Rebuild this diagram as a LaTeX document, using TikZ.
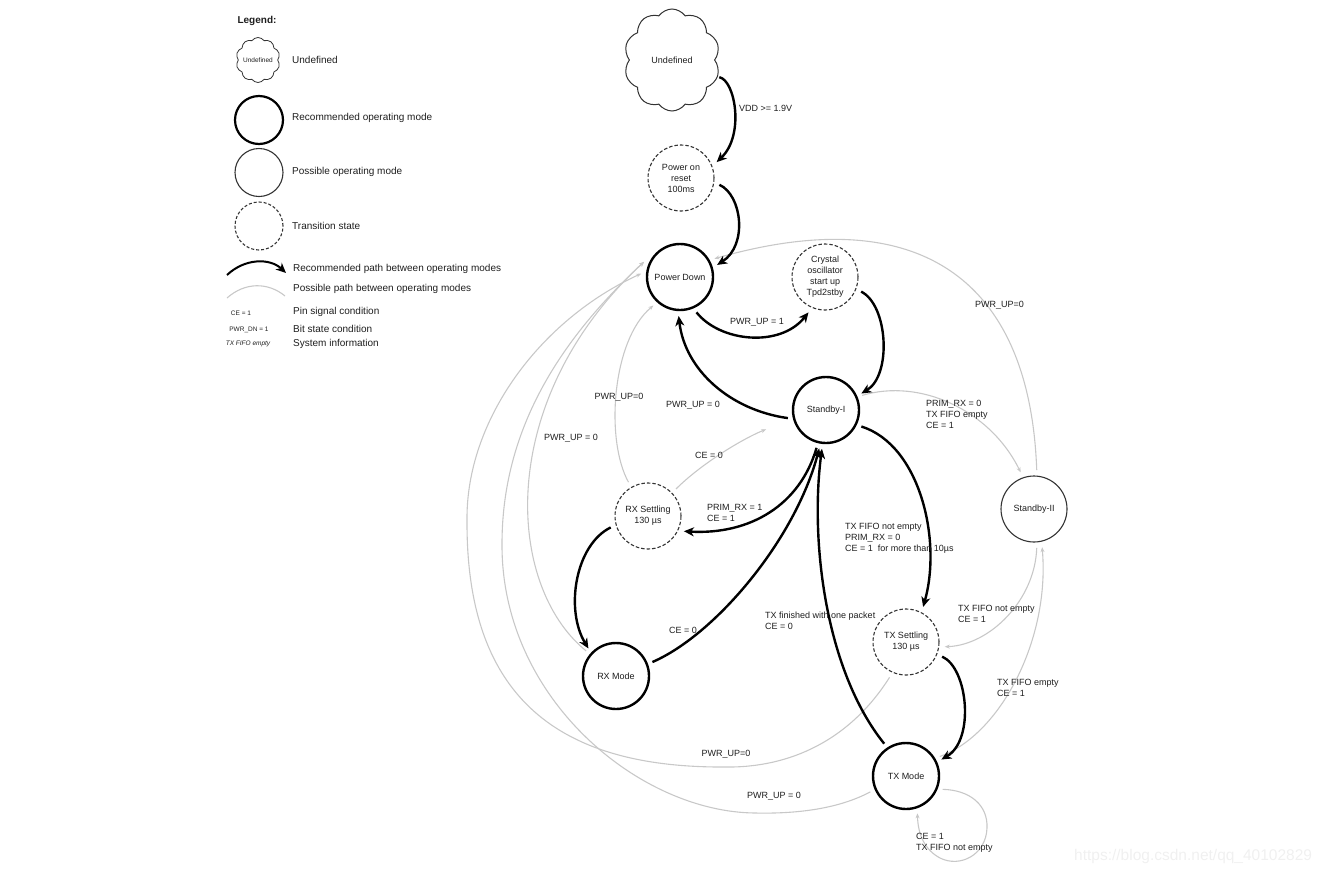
\documentclass[tikz,border=0pt]{standalone}
\usepackage{fontspec}
\setmainfont{Liberation Sans}
\usetikzlibrary{shapes.symbols,arrows.meta}
\newcommand\dfont{\fontsize{9}{11}\selectfont}
\newcommand\lfont{\fontsize{10}{12}\selectfont}
\newcommand\tfont{\fontsize{6.5}{8}\selectfont}
\definecolor{pathgray}{RGB}{200,200,200}
\definecolor{txt}{RGB}{30,30,30}
\begin{document}
\begin{tikzpicture}[x=1pt,y=-1pt,
  state/.style={circle, minimum size=66pt, inner sep=0pt, outer sep=6pt, align=center, font=\dfont, text=txt},
  rec/.style={state, draw=black, line width=2.4pt},
  posm/.style={state, draw=black!80, line width=1.1pt},
  trans/.style={state, draw=black!80, line width=1.1pt, dash pattern=on 3.5pt off 2pt},
  recpath/.style={draw=black, line width=2.4pt, -{Stealth[length=10pt,width=9pt,inset=3pt]}},
  pospath/.style={draw=pathgray, line width=1.1pt, -{Stealth[length=5pt,width=4pt,inset=1.5pt]}},
  lab/.style={font=\dfont, align=left, inner sep=0pt, text=txt},
  leg/.style={font=\lfont, anchor=west, inner sep=0pt, text=txt},
  cloudst/.style={cloud, draw=black!80, cloud puffs=10, cloud puff arc=110, cloud ignores aspect, inner sep=0pt, text=txt},
]
\useasboundingbox (0,0) rectangle (1327,873);

% ---------- legend ----------
\node[font=\lfont\bfseries, text=txt] (legt) at (257,21) {Legend:};
\node[cloudst, line width=0.8pt, minimum width=44pt, minimum height=45pt, font=\tfont] (lund) at (258,60) {Undefined};
\node[circle, draw=black, line width=2.2pt, minimum size=48pt, inner sep=0pt] (lrec) at (259,120) {};
\node[circle, draw=black!80, line width=1.1pt, minimum size=48pt, inner sep=0pt] (lpos) at (259,172.5) {};
\node[circle, draw=black!80, line width=1.1pt, dash pattern=on 3pt off 2pt, minimum size=48pt, inner sep=0pt] (ltr) at (259,226) {};
\coordinate (la1) at (227,275); \coordinate (la2) at (286,273);
\draw[recpath, line width=2pt] (la1) .. controls (245,258) and (270,258) .. (la2);
\coordinate (lb1) at (227,298); \coordinate (lb2) at (285,296);
\draw[draw=pathgray, line width=1.1pt] (lb1) .. controls (245,282) and (268,282) .. (lb2);
\node[leg] (lt1) at (292,60) {Undefined};
\node[leg] (lt2) at (292,118) {Recommended operating mode};
\node[leg] (lt3) at (292,172) {Possible operating mode};
\node[leg] (lt4) at (292,226) {Transition state};
\node[leg] (lt5) at (293,269) {Recommended path between operating modes};
\node[leg] (lt6) at (293,289) {Possible path between operating modes};
\node[leg] (lt7) at (293,312) {Pin signal condition};
\node[leg] (lt8) at (293,329) {Bit state condition};
\node[leg] (lt9) at (293,344) {System information};
\node[font=\tfont, text=txt, inner sep=0pt] (lce) at (241,313) {CE = 1};
\node[font=\tfont, text=txt, inner sep=0pt] (lpw) at (249,330) {PWR\_DN = 1};
\node[font=\tfont\itshape, text=txt, inner sep=0pt] (lfi) at (248,344) {TX FIFO empty};

% ---------- states ----------
\node[cloudst, line width=1pt, minimum width=96pt, minimum height=102pt, outer sep=2pt, font=\dfont] (und) at (672,60) {Undefined};
\node[trans] (por) at (681,178) {Power on\\reset\\100ms};
\node[rec] (pd) at (680,277) {Power Down};
\node[trans] (cr) at (825,277) {Crystal\\oscillator\\start up\\Tpd2stby};
\node[rec] (s1) at (826,410) {Standby-I};
\node[posm] (s2) at (1034,509) {Standby-II};
\node[trans] (rxs) at (648,516) {RX Settling\\130 µs};
\node[rec] (rxm) at (616,676) {RX Mode};
\node[trans] (txs) at (906,642) {TX Settling\\130 µs};
\node[rec] (txm) at (906,776) {TX Mode};

% ---------- possible paths ----------
\draw[pospath] (s2.86) .. controls (1030,280) and (920,200) .. (pd.28);
\draw[pospath] (rxs.120) .. controls (605,440) and (612,340) .. (pd.-133);
\draw[pospath, shorten >=24pt] (rxs.44) .. controls (700,465) and (740,440) .. (s1.195);
\draw[pospath] (s1.22) .. controls (920,378) and (990,410) .. (s2.110);
\draw[pospath] (s2.-86) .. controls (1035,600) and (990,645) .. (txs.-7);
\draw[pospath] (txm.30) .. controls (1000,735) and (1050,640) .. (s2.-78);
\draw[pospath] (txm.-20) .. controls (970,790) and (988,805) .. (987,828) .. controls (986,855) and (960,868) .. (940,858) .. controls (925,850) and (918,835) .. (txm.-73);
\draw[pospath] (rxm.140) .. controls (505,585) and (495,400) .. (pd.157);
\draw[pospath] (txs.-115) .. controls (850,740) and (790,768) .. (725,767) .. controls (550,768) and (466,690) .. (467,520) .. controls (466,420) and (540,320) .. (pd.175);
\draw[pospath] (txm.204) .. controls (840,808) and (800,814) .. (755,813) .. controls (640,812) and (503,700) .. (502,547) .. controls (501,430) and (560,340) .. (pd.157);

% ---------- recommended paths ----------
\draw[recpath] (und.-20) .. controls (735,80) and (745,135) .. (por.24);
\draw[recpath] (por.-10) .. controls (742,195) and (748,245) .. (pd.18);
\draw[recpath] (pd.-65) .. controls (720,342) and (780,348) .. (cr.-115);
\draw[recpath] (cr.-22) .. controls (888,305) and (892,375) .. (s1.25);
\draw[recpath] (s1.192) .. controls (730,410) and (685,370) .. (pd.-92);
\draw[recpath] (s1.-104) .. controls (800,505) and (750,535) .. (rxs.-23);
\draw[recpath] (rxs.197) .. controls (575,545) and (565,610) .. (rxm.135);
\draw[recpath] (rxm.21) .. controls (715,635) and (795,540) .. (s1.-100);
\draw[recpath] (s1.-25) .. controls (920,445) and (942,540) .. (txs.64);
\draw[recpath] (txs.-22) .. controls (968,668) and (975,740) .. (txm.25);
\draw[recpath] (txm.124) .. controls (825,670) and (810,540) .. (s1.-96);

% ---------- labels ----------
\node[lab, anchor=west] (l1) at (739,108) {VDD >= 1.9V};
\node[lab] (l2) at (757,322) {PWR\_UP = 1};
\node[lab] (l3) at (693,405) {PWR\_UP = 0};
\node[lab] (l4) at (619,397) {PWR\_UP=0};
\node[lab] (l5) at (571,438) {PWR\_UP = 0};
\node[lab] (l6) at (709,455) {CE = 0};
\node[lab, anchor=west] (l7) at (707,513) {PRIM\_RX = 1\\CE = 1};
\node[lab] (l8) at (683,630) {CE = 0};
\node[lab, anchor=west] (l9) at (765,621) {TX finished with one packet\\CE = 0};
\node[lab, anchor=west] (l10) at (845,538) {TX FIFO not empty\\PRIM\_RX = 0\\CE = 1\ \ for more than 10µs};
\node[lab, anchor=west] (l11) at (975,305) {PWR\_UP=0};
\node[lab, anchor=west] (l12) at (926,414) {PRIM\_RX = 0\\TX FIFO empty\\CE = 1};
\node[lab, anchor=west] (l13) at (958,613.5) {TX FIFO not empty\\CE = 1};
\node[lab, anchor=west] (l14) at (997,687.5) {TX FIFO empty\\CE = 1};
\node[lab, anchor=west] (l15) at (916,842.5) {CE = 1\\TX FIFO not empty};
\node[lab] (l16) at (726,754) {PWR\_UP=0};
\node[lab] (l17) at (774,796) {PWR\_UP = 0};

% ---------- watermark ----------
\node[font=\fontsize{15.5}{18}\selectfont, text=black!6, anchor=west, inner sep=0pt] (wm) at (1074,856) {https://blog.csdn.net/qq\_40102829};
\end{tikzpicture}
\end{document}
